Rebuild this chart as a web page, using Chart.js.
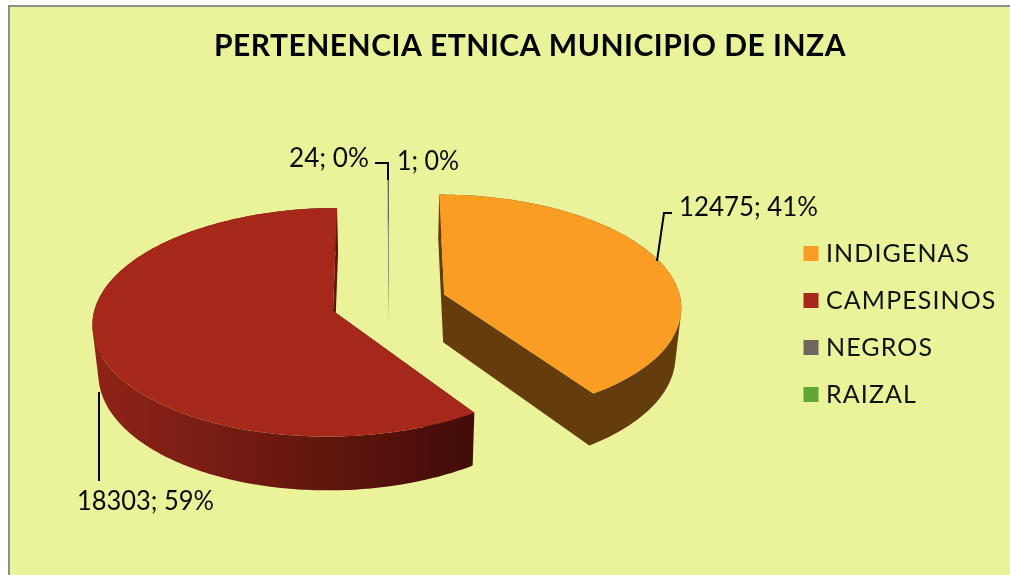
<!DOCTYPE html>
<html><head><meta charset="utf-8">
<style>html,body{margin:0;padding:0;background:#fff}canvas{display:block}</style>
<script src="https://cdn.jsdelivr.net/npm/chart.js@4"></script>
</head><body><canvas id="c" width="1010" height="575"></canvas>
<script>
const chartTitle = 'PERTENENCIA ETNICA MUNICIPIO DE INZA';
const categories = ['INDIGENAS', 'CAMPESINOS', 'NEGROS', 'RAIZAL'];
const values = [12475, 18303, 24, 1];
const percents = [41, 59, 0, 0];
const colors = ['#FB9D23', '#A5281B', '#6F675E', '#63A537'];
const FONT = 'Lato, sans-serif';
const BG = '#EAF29A';
const cx = 389, cy = 302.5, Ax = 237, Ay = 111.5, persp = 0.1005, depth = 48, shrink = 0.98;

function proj(X, Y, bottom) {
  const s = 1 / (1 - persp * Y);
  let x = cx + Ax * X * s, y = cy + Ay * Y * s;
  if (bottom) { x = cx + (x - cx) * shrink; y += depth * s; }
  return [x, y];
}
function addPoly(ctx, pts) {
  let area = 0;
  pts.forEach((p, i) => { const q = pts[(i + 1) % pts.length]; area += p[0] * q[1] - q[0] * p[1]; });
  const o = area < 0 ? pts.slice().reverse() : pts;
  o.forEach((p, i) => i ? ctx.lineTo(p[0], p[1]) : ctx.moveTo(p[0], p[1]));
  ctx.closePath();
}
function wrapSpacing(chart, box, sp) {
  if (!box || box.__w) return;
  const d = box.draw;
  box.draw = function (...args) {
    const ctx = chart.ctx;
    ctx.save(); ctx.letterSpacing = sp; d.apply(this, args); ctx.restore();
  };
  box.__w = true;
}
const pie3d = {
  id: 'pie3d',
  beforeDraw(chart) {
    const ctx = chart.ctx;
    ctx.save();
    ctx.fillStyle = '#fff'; ctx.fillRect(0, 0, 1010, 575);
    ctx.fillStyle = '#8E8E8E'; ctx.fillRect(8, 5, 1002, 570);
    ctx.fillStyle = BG; ctx.fillRect(10, 7, 1000, 568);
    ctx.restore();
  },
  afterLayout(chart) {
    wrapSpacing(chart, chart.titleBlock, '0.5px');
    wrapSpacing(chart, chart.legend, '1.1px');
    const lg = chart.legend;
    lg.left = 786.5; lg.top = 219;
  },
  beforeDatasetsDraw(chart) {
    const ctx = chart.ctx, arcs = chart.getDatasetMeta(0).data;
    ctx.save();
    const redGrad = ctx.createLinearGradient(91, 0, 473, 0);
    redGrad.addColorStop(0, '#8F2418');
    redGrad.addColorStop(0.55, '#66170F');
    redGrad.addColorStop(1, '#420C09');
    const walls = ['#653D0D', redGrad, '#45403A', '#3B6321'];
    const slices = arcs.map((a, i) => {
      const mid = (a.startAngle + a.endAngle) / 2, d = a.options.offset / a.outerRadius;
      const ox = Math.cos(mid) * d, oy = Math.sin(mid) * d;
      const n = Math.max(2, Math.ceil((a.endAngle - a.startAngle) * 60));
      const rim = [];
      for (let k = 0; k <= n; k++) {
        const t = a.startAngle + (a.endAngle - a.startAngle) * k / n;
        rim.push([ox + Math.cos(t), oy + Math.sin(t)]);
      }
      return { ox, oy, rim, i };
    });
    slices.slice().reverse().forEach(s => {
      const topRim = s.rim.map(p => proj(p[0], p[1], false));
      const botRim = s.rim.map(p => proj(p[0], p[1], true));
      const aT = proj(s.ox, s.oy, false), aB = proj(s.ox, s.oy, true);
      ctx.beginPath();
      addPoly(ctx, [aT, aB, botRim[0], topRim[0]]);
      addPoly(ctx, [aT, aB, botRim[botRim.length - 1], topRim[topRim.length - 1]]);
      for (let k = 0; k < topRim.length - 1; k++) {
        addPoly(ctx, [topRim[k], topRim[k + 1], botRim[k + 1], botRim[k]]);
      }
      ctx.fillStyle = walls[s.i];
      ctx.fill('nonzero');
      ctx.beginPath();
      addPoly(ctx, [aT].concat(topRim));
      ctx.fillStyle = colors[s.i];
      ctx.fill();
    });
    ctx.restore();
    return false;
  },
  afterDraw(chart) {
    const ctx = chart.ctx;
    const txt = i => values[i] + '; ' + percents[i] + '%';
    ctx.save();
    ctx.strokeStyle = '#000'; ctx.lineWidth = 2; ctx.lineJoin = 'miter';
    [[[375, 163], [388, 163], [388, 180]], [[672, 213], [664, 213], [657, 261]], [[99, 392], [99, 481]]].forEach(l => {
      ctx.beginPath();
      l.forEach((p, i) => i ? ctx.lineTo(p[0], p[1]) : ctx.moveTo(p[0], p[1]));
      ctx.stroke();
    });
    ctx.fillStyle = '#0A0A0A';
    ctx.font = '27px ' + FONT;
    ctx.textBaseline = 'alphabetic';
    ctx.textAlign = 'left';
    ctx.fillText(txt(2), 289, 167, 80);
    ctx.fillText(txt(3), 397, 170, 62);
    ctx.fillText(txt(0), 679, 216, 139);
    ctx.fillText(txt(1), 77, 510, 137);
    ctx.restore();
  }
};
new Chart(document.getElementById('c'), {
  type: 'pie',
  data: { labels: categories, datasets: [{ data: values, backgroundColor: colors, borderWidth: 0, offset: 55 }] },
  plugins: [pie3d],
  options: {
    responsive: false,
    animation: false,
    layout: { padding: { left: 50 } },
    plugins: {
      tooltip: { enabled: false },
      title: {
        display: true, text: chartTitle, color: '#000',
        font: { family: FONT, size: 30, weight: 'bold' },
        padding: { top: 28, bottom: 8 }
      },
      legend: {
        position: 'right', align: 'start',
        labels: {
          color: '#111', font: { family: FONT, size: 25 },
          boxWidth: 5, boxHeight: 5, padding: 22,
          generateLabels: () => categories.map((t, i) => ({
            text: t, fillStyle: colors[i], strokeStyle: colors[i], lineWidth: 10,
            lineJoin: 'miter', hidden: false, index: i, fontColor: '#111'
          }))
        }
      }
    }
  }
});
</script></body></html>
